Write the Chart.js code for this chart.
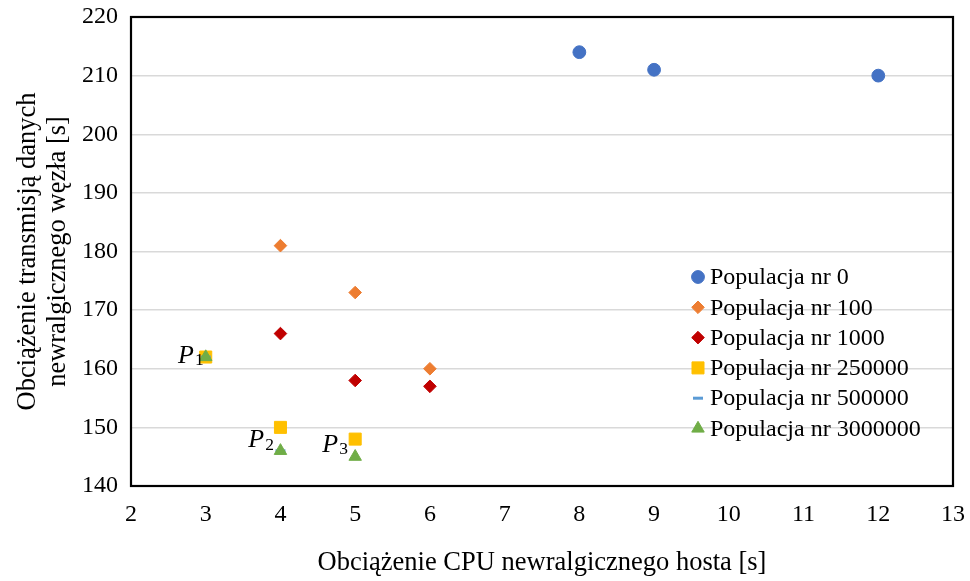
<!DOCTYPE html>
<html><head><meta charset="utf-8">
<script src="https://cdn.jsdelivr.net/npm/chart.js@4/dist/chart.umd.min.js"></script>
<style>html,body{margin:0;padding:0;background:#fff;overflow:hidden}</style>
</head><body>
<canvas id="c" width="970" height="581" style="width:970px;height:581px;display:block"></canvas>
<script>
// ---- data ----
const seriesNames = ['Populacja nr 0','Populacja nr 100','Populacja nr 1000','Populacja nr 250000','Populacja nr 500000','Populacja nr 3000000'];
const pop0X = [8, 9, 12];
const pop0Y = [214, 211, 210];
const pop100X = [4, 5, 6];
const pop100Y = [181, 173, 160];
const pop1000X = [4, 5, 6];
const pop1000Y = [166, 158, 157];
const pop250000X = [3, 4, 5];
const pop250000Y = [162, 150, 148];
const pop500000X = [3, 4];
const pop500000Y = [162, 146];
const pop3000000X = [3, 4, 5];
const pop3000000Y = [162, 146, 145];
const xTickValues = [2, 3, 4, 5, 6, 7, 8, 9, 10, 11, 12, 13];
const yTickValues = [140, 150, 160, 170, 180, 190, 200, 210, 220];
const xTitle = 'Obciążenie CPU newralgicznego hosta [s]';
const yTitle = ['Obciążenie transmisją danych', 'newralgicznego węzła [s]'];
const pLabelMain = ['P', 'P', 'P'];
const pLabelSub = ['1', '2', '3'];
const pLabelX = [2.63, 3.57, 4.56];
const pLabelY = [161.0, 146.6, 145.8];

// ---- styles ----
const FONT = "'Liberation Serif', 'Times New Roman', serif";
const styles = [
  {color:'#4472C4', pointStyle:'circle', radius:6.4},
  {color:'#ED7D31', pointStyle:'rectRot', radius:6.3},
  {color:'#C00000', pointStyle:'rectRot', radius:6.3},
  {color:'#FFC000', pointStyle:'rect', radius:8.5},
  {color:'#5B9BD5', pointStyle:'line', radius:5},
  {color:'#70AD47', pointStyle:'triangle', radius:7.2}
];
const xs = [pop0X, pop100X, pop1000X, pop250000X, pop500000X, pop3000000X];
const ys = [pop0Y, pop100Y, pop1000Y, pop250000Y, pop500000Y, pop3000000Y];

const datasets = seriesNames.map((name, i) => ({
  label: name,
  data: xs[i].map((x, j) => ({x: x, y: ys[i][j]})),
  order: seriesNames.length - 1 - i,   // later series drawn on top
  pointStyle: styles[i].pointStyle,
  pointRadius: styles[i].radius,
  pointHoverRadius: styles[i].radius,
  backgroundColor: styles[i].color,
  borderColor: styles[i].color,
  pointBorderWidth: styles[i].pointStyle === 'line' ? 3 : 1,
  showLine: false
}));

function drawMarker(ctx, st, x, y) {
  ctx.save();
  ctx.fillStyle = st.color; ctx.strokeStyle = st.color;
  ctx.lineWidth = st.pointStyle === 'line' ? 3 : 1;
  if (Chart.helpers && Chart.helpers.drawPoint) {
    Chart.helpers.drawPoint(ctx, {pointStyle: st.pointStyle, radius: st.radius, rotation: 0, borderWidth: ctx.lineWidth}, x, y);
  } else {
    ctx.beginPath(); ctx.arc(x, y, st.radius, 0, Math.PI*2); ctx.fill();
  }
  ctx.restore();
}

const framePlugin = {
  id: 'frame',
  beforeDatasetsDraw(chart) {
    const {ctx, chartArea: a} = chart;
    ctx.save();
    ctx.strokeStyle = '#000'; ctx.lineWidth = 2.2;
    ctx.strokeRect(a.left, a.top, a.right - a.left, a.bottom - a.top);
    ctx.restore();
  }
};

const legendPlugin = {
  id: 'customLegend',
  afterDraw(chart) {
    const ctx = chart.ctx;
    const mx = 698, tx = 710, y0 = 277, dy = 30.3;
    ctx.save();
    ctx.font = '24px ' + FONT;
    ctx.fillStyle = '#000';
    ctx.textBaseline = 'middle';
    ctx.textAlign = 'left';
    chart.data.datasets.forEach((ds, i) => {
      const y = y0 + i * dy;
      drawMarker(ctx, styles[i], mx, y);
      ctx.fillStyle = '#000';
      ctx.fillText(ds.label, tx, y + 1);
    });
    ctx.restore();
  }
};

const pLabelPlugin = {
  id: 'pLabels',
  afterDatasetsDraw(chart) {
    const ctx = chart.ctx;
    const sx = chart.scales.x, sy = chart.scales.y;
    ctx.save();
    ctx.fillStyle = '#000';
    ctx.textBaseline = 'alphabetic';
    ctx.textAlign = 'left';
    pLabelMain.forEach((t, i) => {
      const x = sx.getPixelForValue(pLabelX[i]);
      const y = sy.getPixelForValue(pLabelY[i]);
      ctx.font = 'italic 26px ' + FONT;
      ctx.fillText(t, x, y);
      const w = ctx.measureText(t).width;
      ctx.font = '17.5px ' + FONT;
      ctx.fillText(pLabelSub[i], x + w + 1, y + 2.5);
    });
    ctx.restore();
  }
};

new Chart(document.getElementById('c'), {
  type: 'scatter',
  data: {datasets},
  options: {
    responsive: false,
    animation: false,
    devicePixelRatio: 1,
    layout: {padding: {top: 17, right: 17, left: 0, bottom: 0}},
    plugins: {legend: {display: false}, tooltip: {enabled: false}},
    scales: {
      x: {
        type: 'linear', min: 2, max: 13,
        afterBuildTicks(s) { s.ticks = xTickValues.map(v => ({value: v})); },
        afterFit(s) { s.height = 95; s.paddingLeft = 0; s.paddingRight = 0; },
        grid: {display: false, drawTicks: false},
        border: {display: false},
        ticks: {color: '#000', font: {family: FONT, size: 24}, padding: 14, maxRotation: 0, autoSkip: false},
        title: {display: true, text: xTitle, color: '#000', font: {family: FONT, size: 26.5, lineHeight: 1.15}, padding: {top: 0, bottom: 3}}
      },
      y: {
        type: 'linear', min: 140, max: 220,
        afterBuildTicks(s) { s.ticks = yTickValues.map(v => ({value: v})); },
        afterFit(s) { s.width = 131; s.paddingTop = 0; s.paddingBottom = 0; },
        grid: {color: '#d9d9d9', lineWidth: 1.5, drawTicks: false},
        border: {display: false},
        ticks: {color: '#000', font: {family: FONT, size: 24}, padding: 13, autoSkip: false},
        title: {display: true, text: yTitle, color: '#000', font: {family: FONT, size: 26.5, lineHeight: 1.13}, padding: {top: 13, bottom: 0}}
      }
    }
  },
  plugins: [framePlugin, legendPlugin, pLabelPlugin]
});
</script>
</body></html>
